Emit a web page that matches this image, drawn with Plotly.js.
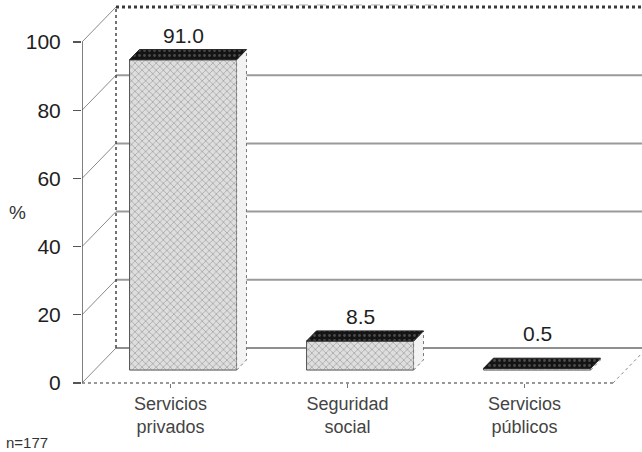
<!DOCTYPE html>
<html>
<head>
<meta charset="utf-8">
<script src="https://cdn.plot.ly/plotly-3.0.1.min.js"></script>
<style>
  html, body { margin: 0; padding: 0; background: #ffffff; }
  #chart { width: 642px; height: 452px; }
</style>
</head>
<body>
<div id="chart"></div>
<script>
// Source of medical care (%), n=177
const categories = ['Servicios<br>privados', 'Seguridad<br>social', 'Servicios<br>públicos'];
const values = [91.0, 8.5, 0.5];
const valueLabels = ['91.0', '8.5', '0.5'];
const yTicks = [0, 20, 40, 60, 80, 100];
const yTickLabels = ['0', '20', '40', '60', '80', '100'];
const sampleNote = 'n=177';
const yLabel = '%';

// ---- oblique "3D" projection settings ----
const PX_PER_CAT = 177;          // horizontal pixels per category
const PX_PER_UNIT = 3.41;        // vertical pixels per percentage point
const DX = 34 / PX_PER_CAT;      // depth offset of the back wall, x units
const DY = 35 / PX_PER_UNIT;     // depth offset of the back wall, y units
const D_FRONT = 0.37;            // bar front face depth (0 = front, 1 = back)
const D_BACK = 0.66;             // bar back face depth
const BAR_W = 0.605;             // bar width in category units

const W = 642, H = 452;
const M = { l: 82, r: 0, t: 3, b: 60 };
const plotW = W - M.l - M.r, plotH = H - M.t - M.b;
const xMin = -0.5, xMax = xMin + plotW / PX_PER_CAT;
const yMax = (383 - M.t) / PX_PER_UNIT;
const yMin = yMax - plotH / PX_PER_UNIT;

const nCat = categories.length;
const xs = categories.map((_, i) => i);
const proj = (x, y, d) => [x + d * DX, y + d * DY];

const FONT = 'Liberation Sans, Arial, Helvetica, sans-serif';

// ---- walls and floor (drawn beneath the bars) ----
const shapes = [];
const seg = (p, q, line) => shapes.push({
  type: 'line', xref: 'x', yref: 'y', layer: 'below',
  x0: p[0], y0: p[1], x1: q[0], y1: q[1], line
});
const xL = xMin, xR = xMin + nCat;
yTicks.forEach((t, k) => {
  // left side wall: diagonal from front axis to back wall
  seg(proj(xL, t, 0), proj(xL, t, 1), { color: '#8a8a8a', width: 1 });
  // back wall gridline
  const top = k === yTicks.length - 1;
  const bottom = k === 0;
  seg(proj(xL, t, 1), proj(xR, t, 1), top
    ? { color: '#3a3a3a', width: 3, dash: 'dot' }
    : { color: bottom ? '#6a6a6a' : '#9a9a9a', width: bottom ? 1.6 : 2 });
});
// back wall left edge
seg(proj(xL, 0, 1), proj(xL, yTicks[yTicks.length - 1], 1), { color: '#444', width: 1.5, dash: 'dot' });
// front value axis
seg(proj(xL, 0, 0), proj(xL, yTicks[yTicks.length - 1], 0), { color: '#555', width: 1.5 });
// floor front edge and right edge
seg(proj(xL, 0, 0), proj(xR, 0, 0), { color: '#777', width: 1.5, dash: 'dot' });
seg(proj(xR, 0, 0), proj(xR, 0, 1), { color: '#8a8a8a', width: 1, dash: 'dot' });
// faint rule along the top
shapes.push({ type: 'line', xref: 'paper', yref: 'paper', layer: 'below',
  x0: (173 - M.l) / plotW, x1: (445 - M.l) / plotW, y0: 0.995, y1: 0.995,
  line: { color: '#b0b0b0', width: 1, dash: 'dash' } });

// ---- bars ----
const traces = [];
// front faces
traces.push({
  type: 'bar',
  x: xs.map(x => x + D_FRONT * DX),
  y: values,
  base: values.map(() => D_FRONT * DY),
  width: BAR_W,
  marker: {
    color: '#dadada',
    line: { color: '#555', width: 1 },
    pattern: { shape: 'x', bgcolor: '#dedede', fgcolor: '#9c9c9c', size: 5, solidity: 0.25 }
  },
  hoverinfo: 'skip',
  showlegend: false
});
// right side and top faces
xs.forEach((x, i) => {
  const v = values[i];
  const l = x - BAR_W / 2, r = x + BAR_W / 2;
  const side = [proj(r, 0, D_FRONT), proj(r, 0, D_BACK), proj(r, v, D_BACK), proj(r, v, D_FRONT), proj(r, 0, D_FRONT)];
  traces.push({
    type: 'scatter', mode: 'lines', fill: 'toself',
    x: side.map(p => p[0]), y: side.map(p => p[1]),
    fillcolor: '#f3f3f3', line: { color: '#777', width: 1, dash: 'dot' },
    hoverinfo: 'skip', showlegend: false
  });
  const topFace = [proj(l, v, D_FRONT), proj(r, v, D_FRONT), proj(r, v, D_BACK), proj(l, v, D_BACK), proj(l, v, D_FRONT)];
  traces.push({
    type: 'scatter', mode: 'lines', fill: 'toself',
    x: topFace.map(p => p[0]), y: topFace.map(p => p[1]),
    fillcolor: '#141414',
    fillpattern: { shape: '.', bgcolor: '#141414', fgcolor: '#4a4a4a', size: 5, solidity: 0.25 },
    line: { color: '#222', width: 1 },
    hoverinfo: 'skip', showlegend: false
  });
});

// ---- annotations ----
// value labels sit above the bar's back top edge, but never below the back floor line
const annotations = xs.map((x, i) => ({
  xref: 'x', yref: 'y',
  x: x + D_FRONT * DX, y: Math.max(values[i] + D_BACK * DY, DY),
  text: valueLabels[i], showarrow: false,
  yanchor: 'bottom', yshift: 1,
  font: { family: FONT, size: 21, color: '#1e1e1e' }
}));
annotations.push({
  xref: 'paper', yref: 'paper',
  x: (17 - M.l) / plotW, y: (M.t + plotH - 212) / plotH,
  xanchor: 'center', yanchor: 'middle',
  text: yLabel, showarrow: false,
  font: { family: FONT, size: 19, color: '#333' }
});
annotations.push({
  xref: 'paper', yref: 'paper',
  x: (4 - M.l) / plotW, y: (M.t + plotH - 432) / plotH,
  xanchor: 'left', yanchor: 'top',
  text: sampleNote, showarrow: false,
  font: { family: FONT, size: 15, color: '#333' }
});

const layout = {
  width: W, height: H, autosize: false,
  margin: M,
  paper_bgcolor: '#ffffff', plot_bgcolor: '#ffffff',
  showlegend: false,
  bargap: 0,
  xaxis: {
    range: [xMin, xMax],
    tickmode: 'array', tickvals: xs, ticktext: categories,
    ticks: 'outside', ticklen: 4, tickcolor: '#777', tickwidth: 1,
    showgrid: false, zeroline: false, showline: false,
    anchor: 'free', position: (0 - yMin) / (yMax - yMin),
    tickfont: { family: FONT, size: 18, color: '#444' },
    fixedrange: true
  },
  yaxis: {
    range: [yMin, yMax],
    tickmode: 'array', tickvals: yTicks, ticktext: yTickLabels,
    ticks: 'outside', ticklen: 8, tickcolor: '#555', tickwidth: 1.2,
    ticklabelstandoff: 8,
    showgrid: false, zeroline: false, showline: false,
    tickfont: { family: FONT, size: 21, color: '#1e1e1e' },
    fixedrange: true
  },
  shapes,
  annotations
};

Plotly.newPlot('chart', traces, layout, { staticPlot: true, displayModeBar: false });
</script>
</body>
</html>
